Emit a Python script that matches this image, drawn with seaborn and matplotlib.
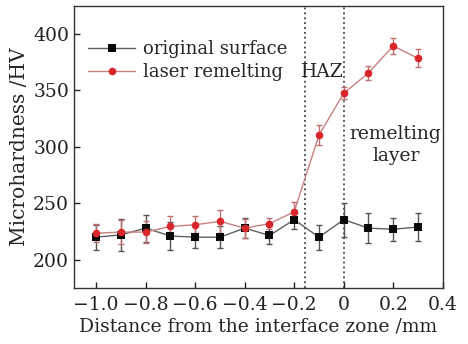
import numpy as np
import pandas as pd
import matplotlib
matplotlib.use("Agg")
import matplotlib.pyplot as plt
import seaborn as sns

distance = [-1.0, -0.9, -0.8, -0.7, -0.6, -0.5, -0.4, -0.3, -0.2, -0.1, 0.0, 0.1, 0.2, 0.3]
original = [220, 222, 228, 221, 220, 220, 228, 221.5, 235.5, 220, 235.5, 228, 227, 229]
original_err = [11, 14, 12, 12, 10, 10, 9, 8, 8.5, 11, 15, 13, 10, 12]
laser = [223.5, 224.5, 224.5, 229.5, 231, 234, 228, 232, 242.5, 310.5, 347.5, 365.5, 389.5, 378.5]
laser_err = [8, 11, 10, 9, 7.5, 10, 8.5, 5, 9, 9, 5.5, 6, 7, 8]
series_names = ["original surface", "laser remelting"]
xticks = [-1.0, -0.8, -0.6, -0.4, -0.2, 0.0, 0.2, 0.4]
xtick_labels = ["\u22121.0", "\u22120.8", "\u22120.6", "\u22120.4", "\u22120.2", "0", "0.2", "0.4"]
yticks = [200, 250, 300, 350, 400]

sns.set_style("ticks")
plt.rcParams["font.family"] = ["DejaVu Serif"]
plt.rcParams["mathtext.fontset"] = "dejavuserif"

df = pd.DataFrame({
    "x": distance * 2,
    "y": original + laser,
    "err": original_err + laser_err,
    "series": [series_names[0]] * len(distance) + [series_names[1]] * len(distance),
})

fig = plt.figure(figsize=(4.68, 3.44), dpi=100)
ax = fig.add_axes([0.158, 0.163, 0.788, 0.82])

line_colors = {series_names[0]: "#606060", series_names[1]: "#c98080"}
marker_colors = {series_names[0]: "#0a0a0a", series_names[1]: "#d9262a"}
err_colors = {series_names[0]: "#555555", series_names[1]: "#c07070"}

sns.lineplot(data=df, x="x", y="y", hue="series", style="series",
             palette=line_colors, markers={series_names[0]: "s", series_names[1]: "o"},
             dashes=False, linewidth=1.0, markersize=5.5, ax=ax, zorder=3,
             markeredgewidth=0)
data_lines = list(ax.get_lines())
for line in data_lines:
    c = matplotlib.colors.to_hex(line.get_color())
    for name in series_names:
        if c == line_colors[name]:
            line.set_markerfacecolor(marker_colors[name])
            line.set_markeredgecolor(marker_colors[name])

for name in series_names:
    sub = df[df["series"] == name]
    ax.errorbar(sub["x"], sub["y"], yerr=sub["err"], fmt="none",
                ecolor=err_colors[name], elinewidth=1.0, capsize=2.5, capthick=1.0, zorder=2)

ax.axvline(-0.155, color="#222222", linestyle=(0, (1.2, 2.0)), linewidth=1.1, zorder=1)
ax.axvline(0.0, color="#222222", linestyle=(0, (1.2, 2.0)), linewidth=1.1, zorder=1)

ax.set_xlim(-1.09, 0.4)
ax.set_ylim(175, 425)
ax.set_xticks(xticks)
ax.set_xticklabels(xtick_labels)
ax.set_yticks(yticks)
ax.tick_params(direction="in", length=4, width=1, labelsize=13.5, colors="#222222")
ax.tick_params(axis="x", pad=6)
for s in ax.spines.values():
    s.set_visible(True)
    s.set_color("#333333")
    s.set_linewidth(1.0)

ax.set_xlabel("Distance from the interface zone /mm", fontsize=13.5, labelpad=2)
ax.set_ylabel("Microhardness /HV", fontsize=14.5, labelpad=3)

ax.text(-0.085, 366, "HAZ", fontsize=13.5, ha="center", va="center")
ax.text(0.21, 311, "remelting", fontsize=13.5, ha="center", va="center")
ax.text(0.21, 292, "layer", fontsize=13.5, ha="center", va="center")

handles, labels = ax.get_legend_handles_labels()
for h, name in zip(handles, labels):
    h.set_markerfacecolor(marker_colors[name])
    h.set_markeredgecolor(marker_colors[name])
ax.legend(handles, labels, loc="upper left", bbox_to_anchor=(0.0, 0.93), frameon=False,
          fontsize=13, handlelength=2.6, handletextpad=0.4, labelspacing=0.3, borderpad=0.3)

fig.savefig("out.png", dpi=100)
